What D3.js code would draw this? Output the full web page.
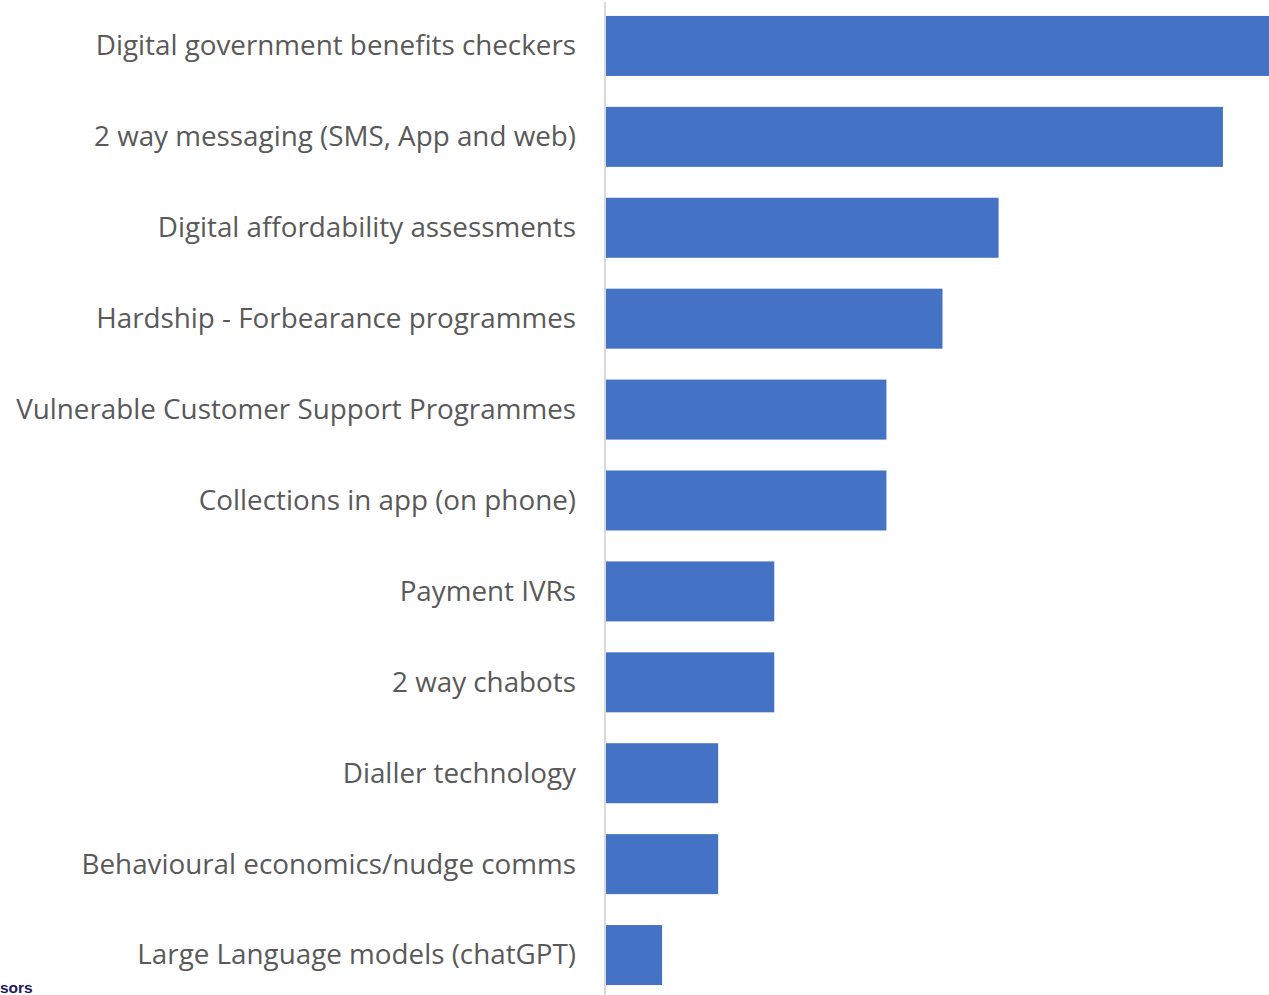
<!DOCTYPE html>
<html>
<head>
<meta charset="utf-8">
<script src="https://cdn.jsdelivr.net/npm/d3@7"></script>
<style>
  html, body { margin: 0; padding: 0; background: #fff; overflow: hidden; }
  svg { display: block; }
</style>
</head>
<body>
<svg id="chart" width="1269" height="995"></svg>
<script>
// Categories (top to bottom) and their counts
const categories = [
  "Digital government benefits checkers",
  "2 way messaging (SMS, App and web)",
  "Digital affordability assessments",
  "Hardship - Forbearance programmes",
  "Vulnerable Customer Support Programmes",
  "Collections in app (on phone)",
  "Payment IVRs",
  "2 way chabots",
  "Dialler technology",
  "Behavioural economics/nudge comms",
  "Large Language models (chatGPT)"
];
const values = [12, 11, 7, 6, 5, 5, 3, 3, 2, 2, 1];
const footnote = "sors";

const width = 1269, height = 995;
const svg = d3.select("#chart");

const x = d3.scaleLinear().domain([0, 12]).range([606, 1279]);
const y = d3.scaleBand()
  .domain(categories)
  .range([0.5, 1000.5])
  .paddingInner(0.34)
  .paddingOuter(0.17);

// Bars
svg.append("g")
  .selectAll("rect")
  .data(categories.map((c, i) => ({ c, v: values[i] })))
  .join("rect")
  .attr("x", x(0))
  .attr("y", d => y(d.c))
  .attr("width", d => x(d.v) - x(0))
  .attr("height", y.bandwidth())
  .attr("fill", "#4472c4");

// Category axis
const axis = d3.axisLeft(y).tickSize(0).tickPadding(30);
const g = svg.append("g")
  .attr("transform", `translate(${x(0)},0)`)
  .call(axis);
g.select(".domain")
  .attr("d", "M0,2V995")
  .attr("stroke", "#d9d9d9")
  .attr("stroke-width", 2)
  .attr("transform", "translate(-1,0)");
g.selectAll(".tick text")
  .attr("fill", "#595959")
  .attr("font-family", "'Open Sans', 'Noto Sans', sans-serif")
  .attr("font-size", 27.8)
  .attr("dy", "0.34em");

// Footnote fragment
svg.append("text")
  .attr("x", 0)
  .attr("y", 993)
  .attr("fill", "#1a1a5e")
  .attr("font-family", "'Liberation Sans', Arial, sans-serif")
  .attr("font-weight", "bold")
  .attr("font-size", 15.5)
  .text(footnote);
</script>
</body>
</html>
